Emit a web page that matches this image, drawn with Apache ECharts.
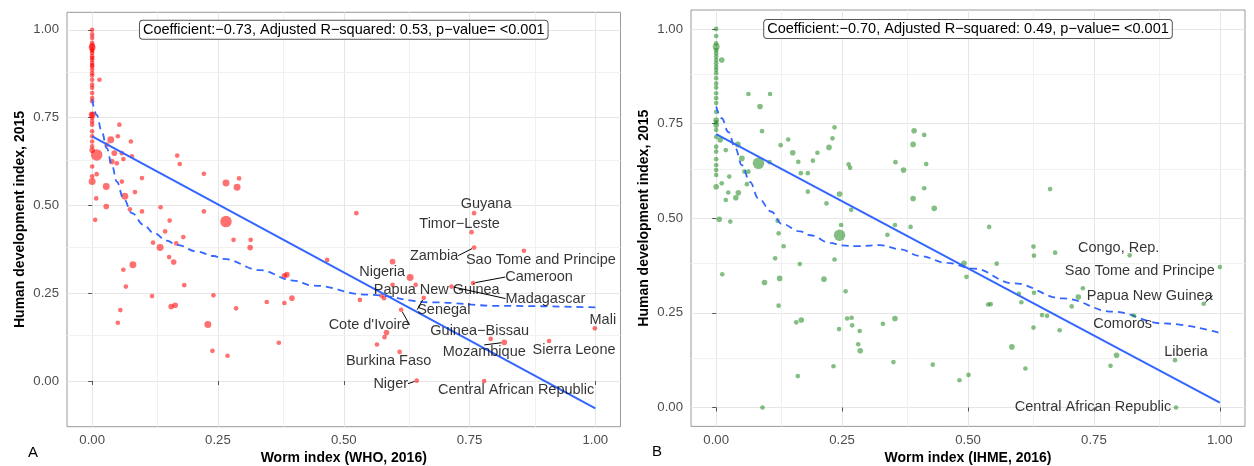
<!DOCTYPE html>
<html>
<head>
<meta charset="utf-8" />
<style>
  html, body { margin: 0; padding: 0; background: #fff; }
  #chart { width: 1254px; height: 466px; }
</style>
<script src="https://cdn.jsdelivr.net/npm/echarts@6/dist/echarts.min.js"></script>
</head>
<body>
<div id="chart"></div>
<script>
// ---- panel A : worm index (WHO) vs HDI ----
var aX = [0, 0, 0, 0, 0, 0, 0, 0, 0, 0, 0, 0, 0, 0, 0, 0, 0, 0, 0, 0, 0, 0, 0, 0, 0, 0, 0, 0, 0, 0, 0, 0, 0, 0, 0, 0, 0,
  0.0145, 0.009, 0.008, 0.006, 0.009, 0.028, 0.028, 0.054, 0.051, 0.037, 0.029, 0.044, 0.059, 0.039, 0.049, 0.062,
  0.077, 0.079, 0.059, 0.065, 0.085, 0.075, 0.099, 0.099, 0.136, 0.154, 0.145, 0.169, 0.174, 0.181, 0.222, 0.222,
  0.266, 0.288, 0.292, 0.266, 0.167, 0.135, 0.281, 0.315, 0.314, 0.153, 0.162, 0.382, 0.387, 0.183, 0.241, 0.347,
  0.382, 0.397, 0.157, 0.165, 0.286, 0.230, 0.062, 0.081, 0.067, 0.056, 0.051, 0.119, 0.121, 0.239, 0.269, 0.371,
  0.525, 0.467, 0.597, 0.597, 0.575, 0.580, 0.532, 0.585, 0.581, 0.566];
var aY = [1.000, 0.987, 0.977, 0.963, 0.955, 0.950, 0.944, 0.940, 0.934, 0.925, 0.920, 0.915, 0.906, 0.900, 0.896, 0.887,
  0.877, 0.870, 0.858, 0.844, 0.835, 0.820, 0.806, 0.797, 0.760, 0.758, 0.749, 0.739, 0.730, 0.711, 0.697, 0.682,
  0.668, 0.657, 0.611, 0.583, 0.568,
  0.858, 0.644, 0.520, 0.459, 0.589, 0.554, 0.497, 0.730, 0.697, 0.687, 0.673, 0.649, 0.649, 0.625, 0.620, 0.632,
  0.682, 0.640, 0.568, 0.526, 0.538, 0.489, 0.578, 0.483, 0.495, 0.457, 0.426, 0.642, 0.618, 0.410, 0.590, 0.483,
  0.564, 0.552, 0.577, 0.454, 0.392, 0.380, 0.402, 0.402, 0.380, 0.353, 0.339, 0.300, 0.303, 0.273, 0.244, 0.225,
  0.222, 0.236, 0.212, 0.216, 0.207, 0.161, 0.317, 0.331, 0.269, 0.202, 0.166, 0.242, 0.394, 0.086, 0.072, 0.109,
  0.478, 0.345, 0.340, 0.274, 0.243, 0.236, 0.231, 0.138, 0.125, 0.104];
// population (millions, rough) -> point size
var aPop = [10, 10, 10, 10, 60, 200, 10, 10, 10, 10, 10, 10, 10, 10, 10, 10, 10, 10, 10, 10, 10, 10, 10, 10, 10, 200, 10,
  10, 10, 10, 10, 10, 10, 60, 10, 10, 200,
  10, 1300, 10, 10, 10, 200, 60, 10, 10, 200, 10, 60, 10, 60, 10, 10,
  10, 10, 10, 200, 10, 10, 10, 10, 10, 10, 10, 10, 10, 10, 10, 10,
  200, 200, 10, 1300, 10, 200, 10, 10, 60, 10, 60, 60, 60, 10, 10, 10,
  10, 60, 60, 60, 10, 200, 10, 200, 10, 10, 10, 10, 10, 10, 10, 10,
  10, 10, 60, 10, 10, 10, 10, 60, 10, 10];
var aNames = ['Guyana', 'Timor\u2212Leste', 'Zambia', 'Sao Tome and Principe', 'Nigeria', 'Cameroon',
  'Papua New Guinea', 'Madagascar', 'Senegal', "Cote d'Ivoire", 'Burkina Faso', 'Niger',
  'Central African Republic', 'Guinea\u2212Bissau', 'Mozambique', 'Sierra Leone', 'Mali'];
var aNamedX = [0.759, 0.754, 0.759, 0.858, 0.632, 0.757, 0.643, 0.714, 0.659, 0.614, 0.611, 0.645, 0.779, 0.792, 0.819, 0.908, 0.999];
var aNamedY = [0.478, 0.424, 0.380, 0.371, 0.295, 0.279, 0.274, 0.269, 0.237, 0.203, 0.083, 0.001, 0.000, 0.120, 0.110, 0.114, 0.150];
var aNamedPop = [10, 10, 10, 10, 200, 10, 10, 10, 10, 10, 10, 10, 10, 10, 60, 10, 10];
var aFitX = [0, 1];
var aFitY = [0.697, -0.078];
var aSmoothX = [0, 0.009, 0.019, 0.029, 0.039, 0.049, 0.062, 0.079, 0.102, 0.122, 0.148, 0.168, 0.21, 0.241, 0.261,
  0.333, 0.4, 0.439, 0.545, 0.677, 0.81, 1.0];
var aSmoothY = [0.801, 0.758, 0.711, 0.663, 0.616, 0.568, 0.521, 0.478, 0.445, 0.422, 0.400, 0.388, 0.368, 0.356, 0.348,
  0.316, 0.286, 0.272, 0.246, 0.224, 0.214, 0.210];
var aStats = 'Coefficient:\u22120.73, Adjusted R\u2212squared: 0.53, p\u2212value= <0.001';

// ---- panel B : worm index (IHME) vs HDI ----
var bX = [0, 0, 0, 0, 0, 0, 0, 0, 0, 0, 0, 0, 0, 0, 0, 0, 0, 0, 0, 0, 0, 0, 0, 0, 0, 0, 0, 0, 0, 0, 0,
  0.011, 0.006, 0.028, 0.064, 0.107, 0.087, 0.091, 0.008, 0.019, 0.043, 0.084, 0.051, 0.106, 0.056, 0.064, 0.026,
  0.011, 0.061, 0.024, 0.044, 0.039, 0.019, 0.128, 0.143, 0.152, 0.163, 0.168, 0.182, 0.192, 0.201, 0.224, 0.231,
  0.235, 0.182, 0.219, 0.245, 0.263, 0.266, 0.268, 0.122, 0.124, 0.245, 0.248, 0.356, 0.372, 0.393, 0.391, 0.413,
  0.417, 0.413, 0.391, 0.433, 0.355, 0.340, 0.386, 0.166, 0.214, 0.235, 0.257, 0.134, 0.117, 0.012, 0.096, 0.126,
  0.124, 0.159, 0.169, 0.244, 0.260, 0.269, 0.270, 0.285, 0.282, 0.286, 0.233, 0.162, 0.092, 0.331, 0.355, 0.352,
  0.430, 0.483, 0.501, 0.492, 0.497, 0.557, 0.540, 0.545, 0.601, 0.606, 0.587, 0.614, 0.630, 0.631, 0.673, 0.631,
  0.647, 0.657, 0.630, 0.682, 0.706, 0.719, 0.728, 0.795, 0.783, 0.663, 0.542];
var bY = [1.000, 0.981, 0.962, 0.953, 0.944, 0.936, 0.927, 0.918, 0.909, 0.900, 0.892, 0.883, 0.870, 0.856, 0.845, 0.830,
  0.817, 0.804, 0.781, 0.759, 0.753, 0.746, 0.733, 0.715, 0.689, 0.676, 0.656, 0.640, 0.627, 0.614, 0.583,
  0.918, 0.497, 0.491, 0.828, 0.828, 0.795, 0.730, 0.707, 0.680, 0.695, 0.645, 0.658, 0.648, 0.623, 0.623, 0.610,
  0.592, 0.590, 0.568, 0.567, 0.554, 0.548, 0.693, 0.708, 0.673, 0.649, 0.619, 0.619, 0.652, 0.673, 0.687, 0.711,
  0.740, 0.570, 0.539, 0.564, 0.642, 0.633, 0.522, 0.493, 0.460, 0.455, 0.482, 0.648, 0.627, 0.731, 0.695, 0.720,
  0.643, 0.579, 0.552, 0.526, 0.482, 0.456, 0.477, 0.379, 0.339, 0.391, 0.307, 0.426, 0.394, 0.352, 0.330, 0.341,
  0.269, 0.225, 0.231, 0.207, 0.235, 0.237, 0.217, 0.202, 0.167, 0.150, 0.109, 0.083, 0.000, 0.221, 0.235, 0.120,
  0.113, 0.072, 0.086, 0.381, 0.345, 0.380, 0.272, 0.273, 0.300, 0.278, 0.160, 0.103, 0.425, 0.401, 0.409, 0.303,
  0.244, 0.242, 0.211, 0.204, 0.267, 0.292, 0.315, 0.138, 0.110, 0.577, 0.477];
var bPop = [10, 10, 10, 200, 10, 10, 10, 10, 10, 10, 10, 10, 10, 10, 10, 10, 10, 10, 10, 60, 10, 60, 10, 10, 10, 10, 10, 10, 10, 10, 60,
  60, 60, 10, 10, 10, 60, 10, 60, 10, 60, 1300, 60, 10, 10, 10, 10,
  10, 10, 10, 60, 60, 10, 10, 10, 60, 10, 10, 10, 10, 10, 60, 10,
  10, 10, 10, 60, 10, 10, 10, 10, 10, 1300, 10, 10, 60, 60, 60, 10,
  10, 10, 60, 60, 10, 10, 10, 10, 60, 10, 10, 10, 10, 10, 60, 60,
  10, 10, 60, 10, 10, 10, 10, 10, 10, 60, 10, 10, 10, 10, 60, 10,
  10, 10, 10, 60, 10, 10, 10, 10, 10, 10, 60, 10, 10, 10, 10, 10,
  10, 10, 10, 10, 10, 60, 10, 60, 10, 10, 10];
var bNames = ['Congo, Rep.', 'Sao Tome and Principe', 'Papua New Guinea', 'Comoros', 'Liberia', 'Central African Republic'];
var bNamedX = [0.821, 1.000, 0.968, 0.829, 0.911, 0.913];
var bNamedY = [0.402, 0.371, 0.274, 0.243, 0.125, 0.000];
var bNamedPop = [10, 10, 10, 10, 10, 10];
var bFitX = [0, 1];
var bFitY = [0.722, 0.013];
var bSmoothX = [0, 0.011, 0.024, 0.038, 0.051, 0.067, 0.084, 0.11, 0.13, 0.167, 0.187, 0.226, 0.25, 0.279, 0.325, 0.365,
  0.405, 0.458, 0.511, 0.59, 0.689, 0.788, 0.888, 1.0];
var bSmoothY = [0.795, 0.764, 0.728, 0.685, 0.640, 0.596, 0.552, 0.517, 0.485, 0.465, 0.455, 0.435, 0.428, 0.426, 0.429, 0.418,
  0.400, 0.382, 0.367, 0.328, 0.288, 0.253, 0.222, 0.197];
var bStats = 'Coefficient:\u22120.70, Adjusted R\u2212squared: 0.49, p\u2212value= <0.001';

// ticks
var majorTicks = [0, 0.25, 0.5, 0.75, 1];
var minorTicks = [0.125, 0.375, 0.625, 0.875];

// ---- label placement (pixel offsets from the point, like ggrepel) ----
var aLabelOff = [[12, -9], [-12, -8], [-40, 8], [17, 9], [-28, -5], [66, -6], [21, 5], [94, 12], [20, 12], [-32, 15],
  [-11, 9], [-26, 3], [32, 9], [-11, -8], [-20, 10], [25, 9], [8, -8]];
var aLabelLine = [false, false, true, false, false, true, false, true, true, true, false, true, false, false, true, false, false];
var bLabelOff = [[-11, -7], [-80, 4], [-54, -8], [-11, 9], [11, -8], [-83, 0]];
var bLabelLine = [false, false, true, false, false, false];

var FONT = '"Liberation Sans", Arial, Helvetica, sans-serif';
var BLUE = '#3366FF';

function sizeOf(v) { return 4 + 7.5 * Math.sqrt(v[2] / 1300); }
function zip(xs, ys) { return xs.map(function (x, i) { return [x, ys[i]]; }); }

function xAxisOf(i, title) {
  return {
    gridIndex: i, type: 'value', min: -0.05, max: 1.05,
    axisLine: { show: false },
    axisTick: { show: true, length: 4, customValues: majorTicks, lineStyle: { color: '#555' } },
    axisLabel: { customValues: majorTicks, color: '#4d4d4d', fontSize: 13.2, fontFamily: FONT, margin: 7,
      formatter: function (v) { return v.toFixed(2); } },
    splitLine: { show: true, lineStyle: { color: '#e6e6e6', width: 1 } },
    name: title, nameLocation: 'middle', nameGap: 24,
    nameTextStyle: { fontWeight: 'bold', fontSize: 14, color: '#000', fontFamily: FONT }
  };
}
function yAxisOf(i, min) {
  return {
    gridIndex: i, type: 'value', min: min, max: 1.05,
    axisLine: { show: false },
    axisTick: { show: true, length: 4, customValues: majorTicks, lineStyle: { color: '#555' } },
    axisLabel: { customValues: majorTicks, color: '#4d4d4d', fontSize: 13.2, fontFamily: FONT, margin: 8,
      formatter: function (v) { return v.toFixed(2); } },
    splitLine: { show: true, lineStyle: { color: '#e6e6e6', width: 1 } },
    name: 'Human development index, 2015', nameLocation: 'middle', nameGap: 40,
    nameTextStyle: { fontWeight: 'bold', fontSize: 14, color: '#000', fontFamily: FONT }
  };
}

function panelSeries(i, xs, ys, pops, color, names, nx, ny, npop, offs, lines, fx, fy, sx, sy, stats, yMinor) {
  return [
    { // minor grid lines, kept under the points
      type: 'line', xAxisIndex: i, yAxisIndex: i, data: [], z: 1, silent: true,
      markLine: {
        z: 1, silent: true, symbol: 'none', label: { show: false }, animation: false,
        lineStyle: { color: '#f1f1f1', width: 1, type: 'solid' },
        data: minorTicks.map(function (v) { return { xAxis: v }; })
          .concat(yMinor.map(function (v) { return { yAxis: v }; }))
      }
    },
    {
      type: 'scatter', xAxisIndex: i, yAxisIndex: i, z: 2,
      data: xs.map(function (x, k) { return [x, ys[k], pops[k]]; }),
      symbolSize: sizeOf, itemStyle: { color: color }
    },
    {
      type: 'line', xAxisIndex: i, yAxisIndex: i, z: 3, data: zip(sx, sy), smooth: 0.4, smoothMonotone: 'x',
      showSymbol: false, lineStyle: { color: BLUE, width: 1.8, type: [7, 5] }
    },
    {
      type: 'line', xAxisIndex: i, yAxisIndex: i, z: 3, data: zip(fx, fy), showSymbol: false,
      lineStyle: { color: BLUE, width: 2 },
      markPoint: {
        symbol: 'rect', symbolSize: 1, itemStyle: { color: 'rgba(0,0,0,0)' }, animation: false,
        label: {
          show: true, position: 'inside', formatter: stats, color: '#000', fontSize: 14.5, fontFamily: FONT,
          backgroundColor: '#fff', borderColor: '#555', borderWidth: 1, borderRadius: 3, padding: [2, 3, 1, 3]
        },
        data: [{ coord: [0.5, 1.0] }]
      }
    },
    {
      type: 'scatter', xAxisIndex: i, yAxisIndex: i, z: 4,
      data: names.map(function (n, k) {
        return { name: n, value: [nx[k], ny[k], npop[k]], labelLine: { show: lines[k] } };
      }),
      symbolSize: sizeOf, itemStyle: { color: color },
      label: { show: true, position: 'inside', formatter: '{b}', color: '#000', fontSize: 14.5, fontFamily: FONT },
      labelLine: { show: false, lineStyle: { color: '#000', width: 1 } },
      labelLayout: function (p) { var o = offs[p.dataIndex]; return { dx: o[0], dy: o[1] }; }
    }
  ];
}

var chart = echarts.init(document.getElementById('chart'));
var option = {
  backgroundColor: '#fff',
  animation: false,
  textStyle: { fontFamily: FONT },
  title: [
    { text: 'A', left: 23, top: 440, textStyle: { fontSize: 15, fontWeight: 'normal', color: '#000', fontFamily: FONT } },
    { text: 'B', left: 647, top: 439, textStyle: { fontSize: 15, fontWeight: 'normal', color: '#000', fontFamily: FONT } }
  ],
  grid: [
    { left: 67, top: 12.3, width: 553.5, height: 414.4, show: true, borderColor: '#999', borderWidth: 1, outerBoundsMode: 'none' },
    { left: 691, top: 10, width: 554, height: 416.4, show: true, borderColor: '#999', borderWidth: 1, outerBoundsMode: 'none' }
  ],
  xAxis: [xAxisOf(0, 'Worm index (WHO, 2016)'), xAxisOf(1, 'Worm index (IHME, 2016)')],
  yAxis: [yAxisOf(0, -0.13), yAxisOf(1, -0.05)],
  series: [].concat(
    panelSeries(0, aX, aY, aPop, 'rgba(255,0,0,0.7)', aNames, aNamedX, aNamedY, aNamedPop, aLabelOff, aLabelLine,
      aFitX, aFitY, aSmoothX, aSmoothY, aStats, minorTicks),
    panelSeries(1, bX, bY, bPop, 'rgba(34,139,34,0.7)', bNames, bNamedX, bNamedY, bNamedPop, bLabelOff, bLabelLine,
      bFitX, bFitY, bSmoothX, bSmoothY, bStats, minorTicks)
  )
};
chart.setOption(option);
</script>
</body>
</html>
